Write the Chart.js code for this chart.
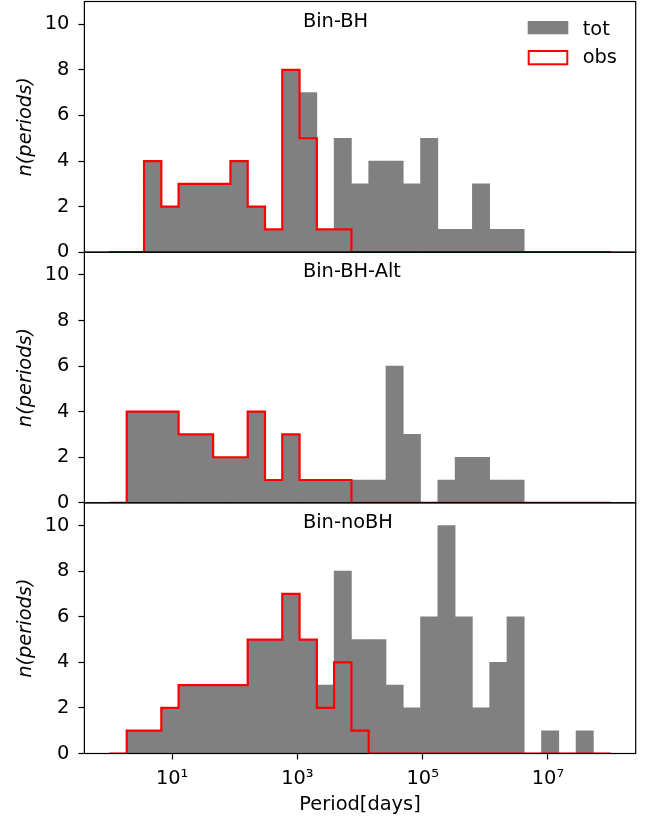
<!DOCTYPE html>
<html>
<head>
<meta charset="utf-8">
<title>Period histograms</title>
<script src="https://cdn.jsdelivr.net/npm/chart.js@4.4.1/dist/chart.umd.min.js"></script>
<style>
  html, body { margin: 0; padding: 0; background: #ffffff; }
  #fig { position: relative; width: 652px; height: 820px; overflow: hidden; background: #ffffff; }
  #fig canvas { position: absolute; left: 0; }
</style>
</head>
<body>
<div id="fig">
  <canvas id="panel0" width="652" height="262" style="top:0px"></canvas>
  <canvas id="panel1" width="652" height="268" style="top:244px"></canvas>
  <canvas id="panel2" width="652" height="326" style="top:494px"></canvas>
</div>
<script>
// Binning: 29 equal-width bins in log10(period / days), from 10^0 to 10^8
const LOG_MIN = 0;
const LOG_MAX = 8;
const N_BINS = 29;

const PANEL_TITLES = ['Bin-BH', 'Bin-BH-Alt', 'Bin-noBH'];
const SERIES_LABELS = ['tot', 'obs'];

// Number of periods per bin
const binBH_tot    = [0,0,4,2,3,3,3,4,2,1,8,7,1,5,3,4,4,3,5,1,1,3,1,1,0,0,0,0,0];
const binBH_obs    = [0,0,4,2,3,3,3,4,2,1,8,5,1,1,0,0,0,0,0,0,0,0,0,0,0,0,0,0,0];
const binBHAlt_tot = [0,4,4,4,3,3,2,2,4,1,3,1,1,1,1,1,6,3,0,1,2,2,1,1,0,0,0,0,0];
const binBHAlt_obs = [0,4,4,4,3,3,2,2,4,1,3,1,1,1,0,0,0,0,0,0,0,0,0,0,0,0,0,0,0];
const binNoBH_tot  = [0,1,1,2,3,3,3,3,5,5,7,5,3,8,5,5,3,2,6,10,6,2,4,6,0,1,0,1,0];
const binNoBH_obs  = [0,1,1,2,3,3,3,3,5,5,7,5,2,4,1,0,0,0,0,0,0,0,0,0,0,0,0,0,0];

const Y_TICKS = [0, 2, 4, 6, 8, 10];
const Y_MAX = 11;
const X_TICKS = [1e1, 1e3, 1e5, 1e7];
const X_TITLE = 'Period[days]';
const Y_TITLE = 'n(periods)';

const FONT = 'DejaVu Sans';
const FS = 19.4;
const TOT_COLOR = '#808080';
const OBS_COLOR = '#ff0000';

const edgesLog = Array.from({ length: N_BINS + 1 }, (_, k) => LOG_MIN + k * (LOG_MAX - LOG_MIN) / N_BINS);
const binEdges = edgesLog.map(e => Math.pow(10, e));
const binCenters = edgesLog.slice(0, -1).map((e, k) => Math.pow(10, (e + edgesLog[k + 1]) / 2));

// Outline of a step histogram: up at the first edge, across each bin, down at the last edge
function stepOutline(counts) {
  const pts = [{ x: binEdges[0], y: 0 }];
  counts.forEach((c, k) => pts.push({ x: binEdges[k], y: c }));
  pts.push({ x: binEdges[N_BINS], y: counts[N_BINS - 1] });
  pts.push({ x: binEdges[N_BINS], y: 0 });
  return pts;
}

const SUP = { '0': '\u2070', '1': '\u00b9', '2': '\u00b2', '3': '\u00b3', '4': '\u2074',
              '5': '\u2075', '6': '\u2076', '7': '\u2077', '8': '\u2078', '9': '\u2079' };
function powerLabel(v) {
  const p = String(Math.round(Math.log10(v)));
  return '10' + p.split('').map(ch => SUP[ch] || ch).join('');
}

// Black box round the plotting area, drawn over the data
const framePlugin = {
  id: 'frame',
  afterDatasetsDraw(chart) {
    const { ctx, chartArea: a } = chart;
    ctx.save();
    ctx.strokeStyle = '#000000';
    ctx.lineWidth = 1.2;
    ctx.strokeRect(a.left, a.top, a.right - a.left, a.bottom - a.top);
    ctx.restore();
  }
};

// Panel name written inside the axes at 40% across, 10% down
function panelTitlePlugin(text) {
  return {
    id: 'panelTitle',
    afterDraw(chart) {
      const { ctx, chartArea: a } = chart;
      ctx.save();
      ctx.fillStyle = '#000000';
      ctx.font = FS + 'px "' + FONT + '"';
      ctx.textAlign = 'left';
      ctx.textBaseline = 'alphabetic';
      ctx.fillText(text, a.left + 0.4 * (a.right - a.left) - 2, a.top + 0.1 * (a.bottom - a.top));
      ctx.restore();
    }
  };
}

// Frameless legend in the upper right corner of the first panel
const legendPlugin = {
  id: 'cornerLegend',
  afterDraw(chart) {
    const { ctx, chartArea: a } = chart;
    const sets = chart.data.datasets;
    const tot = sets.find(d => d.type === 'bar');
    const obs = sets.find(d => d.type === 'line');
    const px = a.right - 108, pw = 40.6, ph = 13.3;
    const tx = px + 55;
    ctx.save();
    ctx.fillStyle = tot.backgroundColor;
    ctx.fillRect(px, a.top + 19.5, pw, ph);
    ctx.strokeStyle = obs.borderColor;
    ctx.lineWidth = 2;
    ctx.strokeRect(px + 1, a.top + 48.5 + 1, pw - 2, ph);
    ctx.fillStyle = '#000000';
    ctx.font = FS + 'px "' + FONT + '"';
    ctx.textAlign = 'left';
    ctx.textBaseline = 'alphabetic';
    ctx.fillText(tot.label, tx, a.top + 33.3);
    ctx.fillText(obs.label, tx, a.top + 61.8);
    ctx.restore();
  }
};

function makePanel(canvasId, title, tot, obs, opts) {
  const xScale = {
    type: 'logarithmic',
    bounds: 'data',
    offset: false,
    min: Math.pow(10, LOG_MIN - 0.05 * (LOG_MAX - LOG_MIN)),
    max: Math.pow(10, LOG_MAX + 0.05 * (LOG_MAX - LOG_MIN)),
    display: opts.showX,
    afterBuildTicks: s => { s.ticks = X_TICKS.map(v => ({ value: v })); },
    afterFit: s => {
      if (opts.showX) s.height = opts.xHeight;
      s.paddingLeft = 0; s.paddingRight = 0; s.paddingTop = 0; s.paddingBottom = 0;
    },
    grid: { display: true, offset: false, drawOnChartArea: false, drawTicks: true,
            tickLength: 6, tickWidth: 1.2, tickColor: '#000000' },
    border: { display: false },
    ticks: { autoSkip: false, maxRotation: 0, minRotation: 0, color: '#000000',
             font: { family: FONT, size: FS }, padding: 8, callback: v => powerLabel(v) },
    title: { display: true, text: X_TITLE, color: '#000000',
             font: { family: FONT, size: FS }, padding: { top: 0, bottom: 3 } }
  };
  const yScale = {
    type: 'linear',
    min: 0,
    max: Y_MAX,
    afterBuildTicks: s => { s.ticks = Y_TICKS.map(v => ({ value: v })); },
    afterFit: s => {
      s.width = 84.4;
      s.paddingLeft = 0; s.paddingRight = 0; s.paddingTop = 0; s.paddingBottom = 0;
    },
    grid: { display: true, drawOnChartArea: false, drawTicks: true,
            tickLength: 6, tickWidth: 1.2, tickColor: '#000000' },
    border: { display: false },
    ticks: { color: '#000000', font: { family: FONT, size: FS }, padding: 9,
             callback: v => String(v) },
    title: { display: true, text: Y_TITLE, color: '#000000',
             font: { family: FONT, size: FS, style: 'italic' }, padding: { top: 14.4, bottom: 0 } }
  };
  const plugins = [framePlugin, panelTitlePlugin(title)];
  if (opts.legend) plugins.push(legendPlugin);
  return new Chart(document.getElementById(canvasId), {
    type: 'bar',
    data: {
      datasets: [
        {
          type: 'line',
          label: SERIES_LABELS[1],
          data: stepOutline(obs),
          borderColor: OBS_COLOR,
          backgroundColor: OBS_COLOR,
          borderWidth: 2.2,
          stepped: 'before',
          pointRadius: 0,
          fill: false,
          clip: 0,
          borderJoinStyle: 'miter',
          borderCapStyle: 'butt',
          order: 0
        },
        {
          type: 'bar',
          label: SERIES_LABELS[0],
          data: tot.map((c, k) => ({ x: binCenters[k], y: c })),
          backgroundColor: TOT_COLOR,
          borderWidth: 0,
          barPercentage: 1,
          categoryPercentage: 1,
          order: 1
        }
      ]
    },
    options: {
      responsive: false,
      animation: false,
      events: [],
      layout: { padding: { top: opts.padTop, bottom: opts.padBottom, left: 0, right: 16.3 } },
      plugins: { legend: { display: false }, tooltip: { enabled: false }, title: { display: false } },
      scales: { x: xScale, y: yScale }
    },
    plugins: plugins
  });
}

makePanel('panel0', PANEL_TITLES[0], binBH_tot, binBH_obs,
          { showX: false, legend: true, padTop: 1.5, padBottom: 9.8 });
makePanel('panel1', PANEL_TITLES[1], binBHAlt_tot, binBHAlt_obs,
          { showX: false, legend: false, padTop: 8.2, padBottom: 9.2 });
makePanel('panel2', PANEL_TITLES[2], binNoBH_tot, binNoBH_obs,
          { showX: true, legend: false, padTop: 8.8, padBottom: 0, xHeight: 66.5 });
</script>
</body>
</html>
